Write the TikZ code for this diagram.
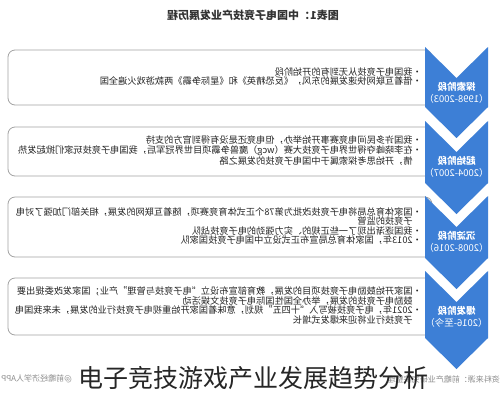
\documentclass[tikz,border=0pt]{standalone}
\usepackage{fontspec}
\setmainfont{Noto Sans CJK SC}
\usetikzlibrary{calc}
\definecolor{stageblue}{HTML}{3D7FD6}
\definecolor{boxgray}{HTML}{A3A3A3}
\tikzset{
  mirror/.style={xscale=-1,transform shape},
  panel/.style={draw=boxgray,line width=0.8pt,rounded corners=7pt},
  bodytext/.style={mirror,align=left,inner sep=0pt,text=black!85,
    font=\fontsize{9.2}{9.6}\selectfont},
  stagetext/.style={mirror,align=center,inner sep=0pt,text=white,
    font=\fontsize{9.5}{12}\selectfont},
}
% box with the bullet text, read through a mirror
\newcommand{\PANEL}[4]{
  \draw[panel] (8,#2) rectangle (432,#3);
  \node[bodytext,anchor=west] (#1) at (422,{(#2+#3)/2-1}) {#4};
}
% blue chevron: #2 top corners, #3 foot of the sides
\newcommand{\CHEVRON}[4]{
  \fill[stageblue] (425,#2) -- (456.5,#2+31) -- (488,#2) -- (488,#3)
    -- (456.5,#3+31) -- (425,#3) -- cycle;
  \node[stagetext] (#1) at (456.5,#2+46) {#4};
}

\begin{document}
\begin{tikzpicture}[x=1pt,y=-1pt]
  \useasboundingbox (0,0) rectangle (503,400);
  \fill[white] (0,0) rectangle (503,400);

  \node[mirror,font=\fontsize{11}{13}\selectfont\bfseries,text=black!80]
    (title) at (253,15) {图表1：中国电子竞技产业发展历程};

  \PANEL{txtA}{50}{105}{•我国电子竞技从无到有的开始阶段\\
    •借着互联网快速发展的东风，《反恐精英》和《星际争霸》两款游戏火遍全国}
  \PANEL{txtB}{127}{176}{•我国许多民间电竞赛事开始举办，但电竞还是没有得到官方的支持\\
    •在李晓峰夺得世界电子竞技大赛（wcg）魔兽争霸项目世界冠军后，我国电子竞技玩家们掀起发热\\
    \hphantom{•}情，开始思考探索属于中国电子竞技的发展之路}
  \PANEL{txtC}{197}{257}{•国家体育总局将电子竞技改批为第78个正式体育竞赛项，随着互联网的发展，相关部门加强了对电\\
    \hphantom{•}子竞技的监管\\
    •我国逐渐出现了一些正规的、实力强劲的电子竞技战队\\
    •2013年，国家体育总局宣布正式设立中国电子竞技国家队}
  \PANEL{txtD}{278}{335}{•国家开始鼓励电子竞技项目的发展，教育部宣布设立“电子竞技与管理”产业；国家发改委提出要\\
    \hphantom{•}鼓励电子竞技的发展，举办全国性国际电子竞技文娱活动\\
    •2021年，电子竞技被写入“十四五”规划，意味着国家开始重视电子竞技行业的发展，未来我国电\\
    \hphantom{•}子竞技行业将迎来爆发式增长}

  \CHEVRON{stA}{47}{107}{\textbf{探索阶段}\\（1998-2003）}
  \CHEVRON{stB}{121}{183}{\textbf{起始阶段}\\（2004-2007）}
  \CHEVRON{stC}{196}{258}{\textbf{沉淀阶段}\\（2008-2016）}
  \CHEVRON{stD}{271}{338}{\textbf{爆发阶段}\\（2016-至今）}

  \node[mirror,anchor=west,inner sep=0pt,text=black!45,
    font=\fontsize{8}{10}\selectfont] (src) at (500,379) {资料来源：前瞻产业研究院整理};
  \node[mirror,anchor=east,inner sep=0pt,text=black!45,
    font=\fontsize{8}{10}\selectfont] (app) at (1,379) {@前瞻经济学人APP};

  \node[inner sep=0pt,text=black!85,font=\fontsize{25}{30}\selectfont]
    (caption) at (253,378) {电子竞技游戏产业发展趋势分析};
\end{tikzpicture}
\end{document}
